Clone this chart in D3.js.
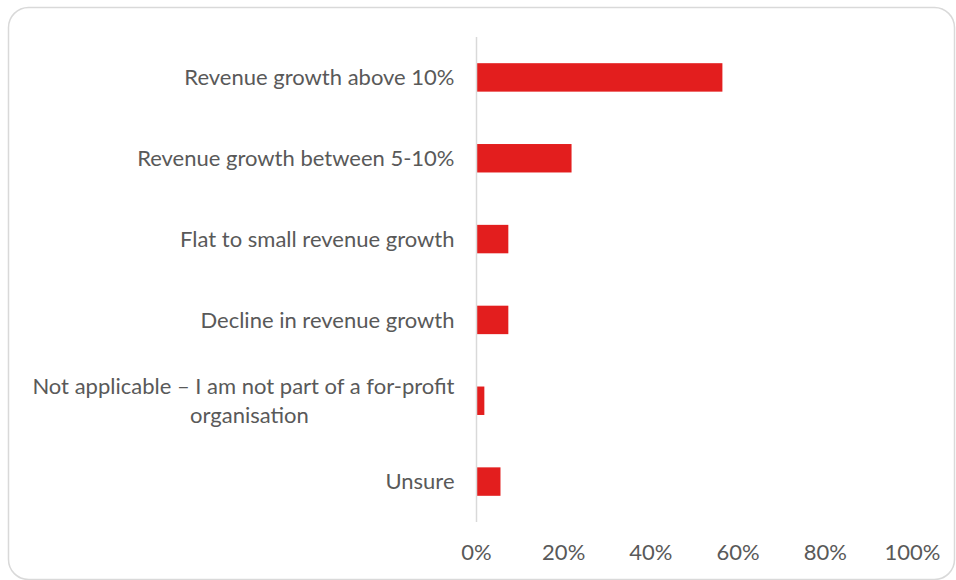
<!DOCTYPE html>
<html>
<head>
<meta charset="utf-8">
<script src="https://cdn.jsdelivr.net/npm/d3@7"></script>
<style>
  body { margin: 0; background: #fff; }
  text { font-family: Lato, "Open Sans", sans-serif; fill: #595959; }
</style>
</head>
<body>
<div id="chart"></div>
<script>
var categories = [
  "Revenue growth above 10%",
  "Revenue growth between 5-10%",
  "Flat to small revenue growth",
  "Decline in revenue growth",
  "Not applicable \u2013 I am not part of a for-profit organisation",
  "Unsure"
];
var shares = [0.564, 0.218, 0.073, 0.073, 0.018, 0.055];
var tickValues = [0, 0.2, 0.4, 0.6, 0.8, 1];

var width = 956;
var height = 580;
var fontSize = 22;

var svg = d3.select("#chart").append("svg")
    .attr("width", width)
    .attr("height", height);

// frame round the chart
svg.append("rect")
    .attr("x", 8.5)
    .attr("y", 7.5)
    .attr("width", 946)
    .attr("height", 572)
    .attr("rx", 20)
    .attr("fill", "none")
    .attr("stroke", "#d9d9d9")
    .attr("stroke-width", 1.5);

var x = d3.scaleLinear().domain([0, 1]).range([476.5, 912.5]);
var y = d3.scaleBand().domain(categories).range([37, 522]).paddingInner(0.648).paddingOuter(0.324);

svg.selectAll(".bar")
    .data(categories)
  .enter().append("rect")
    .attr("class", "bar")
    .attr("x", x(0))
    .attr("y", function(d) { return y(d); })
    .attr("width", function(d, i) { return x(shares[i]) - x(0); })
    .attr("height", y.bandwidth())
    .attr("fill", "#e31e1e");

// vertical axis line
svg.append("line")
    .attr("x1", x(0)).attr("x2", x(0))
    .attr("y1", 37).attr("y2", 522)
    .attr("stroke", "#d9d9d9")
    .attr("stroke-width", 1.5);

// x tick labels
svg.selectAll(".tick-label")
    .data(tickValues)
  .enter().append("text")
    .attr("class", "tick-label")
    .attr("x", function(d) { return x(d); })
    .attr("y", 552)
    .attr("dy", "0.35em")
    .attr("text-anchor", "middle")
    .style("font-size", fontSize + "px")
    .text(d3.format(".0%"));

// category labels, the long one wraps onto two lines
var labelRight = x(0) - 22;
var wrapAt = "for-profit ";

svg.selectAll(".cat-label")
    .data(categories)
  .enter().append("text")
    .attr("class", "cat-label")
    .attr("y", function(d) { return y(d) + y.bandwidth() / 2; })
    .style("font-size", fontSize + "px")
    .each(function(d) {
      var t = d3.select(this);
      var cy = y(d) + y.bandwidth() / 2;
      var cut = d.indexOf(wrapAt);
      if (cut < 0) {
        t.attr("x", labelRight).attr("dy", "0.35em").attr("text-anchor", "end").text(d);
        return;
      }
      var first = d.slice(0, cut + wrapAt.length - 1);
      var second = d.slice(cut + wrapAt.length);
      var l1 = t.append("tspan")
          .attr("x", labelRight).attr("y", cy - 14.5).attr("dy", "0.35em")
          .attr("text-anchor", "end").text(first);
      var w1 = l1.node().getComputedTextLength();
      t.append("tspan")
          .attr("x", labelRight - w1 / 2 + 6).attr("y", cy + 14.5).attr("dy", "0.35em")
          .attr("text-anchor", "middle").text(second);
    });
</script>
</body>
</html>
